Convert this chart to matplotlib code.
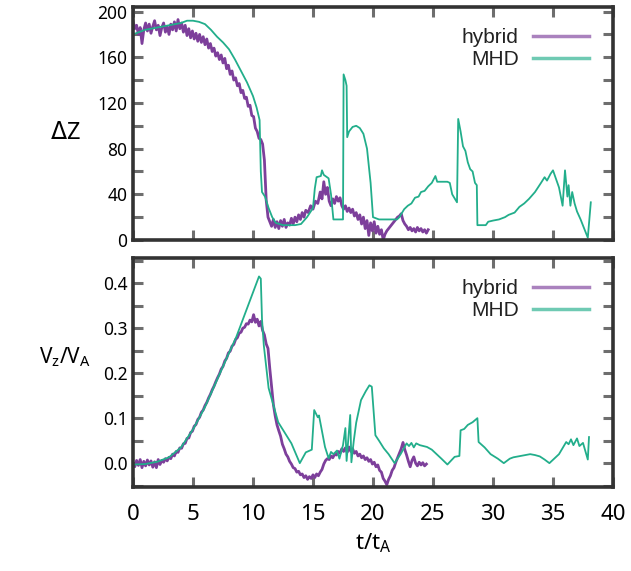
import numpy as np
import matplotlib
matplotlib.use("Agg")
import matplotlib.pyplot as plt
from matplotlib.ticker import MultipleLocator, FuncFormatter

# ---- data ----
hyb_dz_t = [0.0, 0.15, 0.3, 0.45, 0.6, 0.75, 0.9, 1.05, 1.2, 1.35, 1.5, 1.65, 1.8, 1.95, 2.1, 2.25, 2.4, 2.55, 2.7, 2.85,
            3.0, 3.15, 3.3, 3.45, 3.6, 3.75, 3.9, 4.05, 4.2, 4.35, 4.5, 4.65, 4.8, 4.95, 5.1, 5.25, 5.4, 5.55, 5.7, 5.85,
            6.0, 6.15, 6.3, 6.45, 6.6, 6.75, 6.9, 7.05, 7.2, 7.35, 7.5, 7.65, 7.8, 7.95, 8.1, 8.25, 8.4, 8.55, 8.7, 8.85,
            9.0, 9.15, 9.3, 9.45, 9.6, 9.75, 9.9, 10.05, 10.2, 10.35, 10.5, 10.65, 10.8, 10.95, 11.1, 11.25, 11.4, 11.55,
            11.7, 11.85, 12.0, 12.15, 12.3, 12.45, 12.6, 12.75, 12.9, 13.05, 13.2, 13.35, 13.5, 13.65, 13.8, 13.95, 14.1,
            14.25, 14.4, 14.6, 14.8, 15.0, 15.2, 15.4, 15.6, 15.75, 15.9, 16.05, 16.2, 16.35, 16.5, 16.65, 16.8, 16.95,
            17.1, 17.25, 17.4, 17.55, 17.7, 17.85, 18.0, 18.15, 18.3, 18.45, 18.6, 18.75, 18.9, 19.05, 19.2, 19.35, 19.5,
            19.65, 19.8, 19.95, 20.1, 20.25, 20.4, 20.55, 20.7, 20.85, 21.0, 21.15, 21.3, 21.45, 21.6, 21.75, 21.9, 22.05,
            22.2, 22.35, 22.5, 22.65, 22.8, 22.95, 23.1, 23.25, 23.4, 23.55, 23.7, 23.85, 24.0, 24.15, 24.3, 24.45, 24.6]
hyb_dz = [192, 185, 188, 180, 186, 172, 184, 190, 183, 189, 181, 187, 192, 184, 188, 179, 186, 190, 182, 187,
          180, 189, 184, 191, 183, 193, 185, 190, 182, 188, 179, 185, 177, 183, 176, 181, 174, 180, 173, 178,
          171, 176, 168, 172, 165, 168, 161, 164, 158, 162, 155, 159, 150, 153, 145, 148, 140, 142, 135, 137,
          129, 131, 124, 125, 117, 118, 109, 108, 98, 95, 89, 88, 84, 70, 35, 20, 16, 12,
          18, 11, 16, 10, 17, 12, 18, 11, 15, 13, 19, 14, 20, 16, 22, 18, 24,
          20, 26, 24, 30, 27, 34, 32, 42, 36, 51, 40, 46, 34, 30, 36, 32, 38,
          34, 37, 30, 27, 30, 25, 28, 24, 27, 21, 24, 18, 22, 14, 20, 10, 17,
          4, 15, 8, 16, 6, 12, 5, 9, 0, 5, 8, 10, 12, 14, 16, 18, 20,
          21, 23, 17, 14, 12, 9, 11, 8, 10, 7, 11, 8, 10, 7, 9, 6, 9]

mhd_dz_t = [0, 0.5, 1, 1.5, 2, 2.5, 3, 3.5, 4, 4.5, 5, 5.5, 6, 6.5, 7, 7.5, 8, 8.5, 9, 9.5, 10, 10.3, 10.55, 10.65,
            10.75, 11.0, 11.3, 11.6, 11.9, 12.5, 13.5, 14.0, 14.5, 15.0, 15.15, 15.3, 15.65, 15.75, 15.9, 16.3, 16.5,
            16.7, 17.5, 17.55, 17.7, 17.8, 17.85, 18.0, 18.3, 18.6, 18.9, 19.2, 19.5, 19.8, 20.0, 20.5, 22.0, 22.2,
            22.6, 22.9, 23.2, 23.5, 23.8, 24.0, 24.3, 24.6, 24.9, 25.2, 25.35, 25.8, 26.2, 26.4, 26.6, 27.0, 27.1,
            27.3, 27.5, 27.7, 27.9, 28.1, 28.3, 28.5, 28.65, 28.7, 29.4, 29.6, 30.0, 30.5, 31.0, 31.3, 31.8, 32.2,
            32.6, 33.0, 33.5, 34.0, 34.3, 34.5, 34.8, 35.0, 35.2, 35.5, 35.8, 36.0, 36.2, 36.3, 36.45, 36.6, 36.8,
            37.0, 37.3, 37.6, 37.9, 38.15]
mhd_dz = [180, 182, 184, 185, 186, 187, 188, 189, 190, 192, 192, 191, 189, 184, 178, 173, 167, 158, 148, 138, 126, 116, 105, 60,
          42, 38, 28, 20, 15, 13, 13, 14, 20, 28, 45, 55, 56, 61, 57, 54, 40,
          18, 18, 145, 140, 135, 90, 95, 99, 100, 98, 93, 80, 50, 20, 18, 18, 20,
          27, 30, 32, 37, 38, 42, 43, 47, 50, 56, 51, 51, 51, 50, 40, 33, 106,
          95, 82, 78, 68, 62, 60, 50, 48, 13, 13, 16, 17, 18, 20, 22, 24, 29,
          32, 36, 42, 50, 55, 52, 58, 61, 55, 46, 30, 61, 38, 48, 30, 42, 32,
          25, 18, 10, 2, 33]

hyb_vz_t = [0.0, 0.15, 0.3, 0.45, 0.6, 0.75, 0.9, 1.05, 1.2, 1.35, 1.5, 1.65, 1.8, 1.95, 2.1, 2.25, 2.4, 2.55, 2.7, 2.85,
            3.0, 3.15, 3.3, 3.45, 3.6, 3.75, 3.9, 4.05, 4.2, 4.35, 4.5, 4.65, 4.8, 4.95, 5.1, 5.25, 5.4, 5.55, 5.7, 5.85,
            6.0, 6.15, 6.3, 6.45, 6.6, 6.75, 6.9, 7.05, 7.2, 7.35, 7.5, 7.65, 7.8, 7.95, 8.1, 8.25, 8.4, 8.55, 8.7, 8.85,
            9.0, 9.15, 9.3, 9.45, 9.6, 9.75, 9.9, 10.05, 10.2, 10.35, 10.5, 10.65, 10.8, 10.95, 11.1, 11.25, 11.4, 11.55,
            11.7, 11.85, 12.0, 12.15, 12.3, 12.45, 12.6, 12.75, 12.9, 13.05, 13.2, 13.35, 13.5, 13.65, 13.8, 13.95, 14.1,
            14.25, 14.4, 14.55, 14.7, 14.85, 15.0, 15.15, 15.3, 15.45, 15.6, 15.75, 15.9, 16.05, 16.2, 16.35, 16.5, 16.65,
            16.8, 16.95, 17.1, 17.25, 17.4, 17.55, 17.7, 17.85, 18.0, 18.15, 18.3, 18.45, 18.6, 18.75, 18.9, 19.05, 19.2,
            19.35, 19.5, 19.65, 19.8, 19.95, 20.1, 20.25, 20.4, 20.55, 20.7, 20.85, 21.0, 21.15, 21.3, 21.45, 21.6, 21.75,
            21.9, 22.05, 22.2, 22.35, 22.5, 22.65, 22.8, 22.95, 23.1, 23.25, 23.4, 23.55, 23.7, 23.85, 24.0, 24.15, 24.3,
            24.45]
hyb_vz = [0.0, -0.008, 0.006, -0.005, 0.008, -0.01, 0.004, -0.006, 0.007, -0.004, 0.005, -0.009, 0.003, -0.01, 0.008,
          -0.003, 0.006, 0.002, 0.01, 0.005, 0.013, 0.01, 0.02, 0.016, 0.026, 0.024, 0.034, 0.033, 0.043, 0.044, 0.055,
          0.056, 0.068, 0.071, 0.082, 0.086, 0.097, 0.102, 0.113, 0.118, 0.128, 0.135, 0.145, 0.153, 0.163, 0.171,
          0.181, 0.19, 0.198, 0.209, 0.215, 0.227, 0.233, 0.245, 0.249, 0.26, 0.264, 0.275, 0.279, 0.289, 0.291, 0.3,
          0.302, 0.31, 0.309, 0.318, 0.314, 0.33, 0.313, 0.32, 0.305, 0.315, 0.295, 0.285, 0.265, 0.255, 0.21, 0.17,
          0.13, 0.105, 0.085, 0.072, 0.06, 0.042, 0.032, 0.02, 0.014, 0.004, -0.002, -0.01, -0.012, -0.02, -0.018,
          -0.026, -0.024, -0.032, -0.028, -0.036, -0.03, -0.034, -0.026, -0.032, -0.024, -0.028, -0.02, -0.014,
          -0.002, 0.006, 0.01, 0.008, 0.016, 0.012, 0.02, 0.018, 0.026, 0.022, 0.032, 0.026, 0.034, 0.024, 0.036,
          0.026, 0.032, 0.022, 0.026, 0.016, 0.02, 0.012, 0.016, 0.008, 0.012, 0.004, 0.008, -0.002, 0.002, -0.008,
          -0.004, -0.016, -0.02, -0.034, -0.04, -0.048, -0.036, -0.028, -0.016, -0.01, 0.002, 0.012, 0.022, 0.032,
          0.046, 0.03, 0.018, 0.004, -0.008, 0.006, 0.014, 0.0, -0.006, 0.002, -0.004, 0.001, -0.006, -0.002]

mhd_vz_t = [0, 1, 2, 3, 4, 5, 6, 7, 8, 8.6, 10.5, 10.65, 10.75, 10.9, 11.3, 12.1, 13.2, 13.9, 14.4, 14.9, 15.1, 15.4,
            15.5, 15.7, 16.0, 16.3, 16.5, 16.7, 17.0, 17.2, 17.5, 17.7, 17.8, 18.1, 18.2, 18.4, 18.6, 19.0, 19.4, 19.7,
            19.9, 20.2, 20.5, 20.9, 21.3, 21.8, 22.3, 22.8, 23.0, 23.2, 23.4, 23.6, 23.9, 24.2, 24.5, 24.9, 25.3, 25.7,
            26.2, 26.8, 27.2, 27.3, 27.6, 27.9, 28.3, 28.7, 28.8, 29.3, 29.8, 30.4, 30.9, 31.4, 31.7, 32.3, 33.1, 33.5,
            33.9, 34.3, 34.7, 35.1, 35.5, 36.1, 36.3, 36.5, 36.7, 37.0, 37.2, 37.5, 37.9, 38.0]
mhd_vz = [-0.003, -0.002, 0.003, 0.013, 0.035, 0.075, 0.125, 0.185, 0.245, 0.28, 0.415, 0.41, 0.32, 0.262, 0.167, 0.091,
          0.044, 0.0, 0.024, 0.03, 0.118, 0.102, 0.106, 0.078, 0.036, 0.011, 0.025, 0.02, 0.028, 0.01, 0.04, 0.078,
          0.005, 0.107, 0.002, 0.05, 0.09, 0.14, 0.16, 0.173, 0.17, 0.062, 0.05, 0.033, 0.02, 0.0, 0.02, 0.044, 0.038,
          0.045, 0.035, 0.044, 0.04, 0.038, 0.036, 0.03, 0.02, 0.01, -0.003, 0.014, 0.016, 0.073, 0.076, 0.085, 0.091,
          0.1, 0.047, 0.035, 0.02, 0.01, 0.0, 0.01, 0.013, 0.016, 0.02, 0.018, 0.015, 0.008, 0.0, 0.01, 0.02, 0.047,
          0.042, 0.053, 0.04, 0.055, 0.038, 0.045, 0.008, 0.058]

hyb_col = '#7d3f9b'
mhd_col = '#22ae8b'
frame_col = '#333333'
tick_col = '#6e6e6e'
tick_font = 'Noto Sans'
leg_font = ['Liberation Sans Narrow', 'Liberation Sans', 'DejaVu Sans']

fig = plt.figure(figsize=(6.31, 5.71), dpi=100)
ax1 = fig.add_axes([133/631, 1-240/571, 480/631, 233/571])
ax2 = fig.add_axes([133/631, 1-487/571, 480/631, 229/571])

ax1.plot(hyb_dz_t, hyb_dz, color=hyb_col, lw=2.0, label='hybrid')
ax1.plot(mhd_dz_t, mhd_dz, color=mhd_col, lw=1.3, label='MHD')
ax2.plot(hyb_vz_t, hyb_vz, color=hyb_col, lw=2.0, label='hybrid')
ax2.plot(mhd_vz_t, mhd_vz, color=mhd_col, lw=1.3, label='MHD')

ax1.set_ylim(0, 204)
ax2.set_ylim(-0.053, 0.456)

for ax in (ax1, ax2):
    ax.set_xlim(0, 40)
    ax.xaxis.set_major_locator(MultipleLocator(5))
    for s in ax.spines.values():
        s.set_linewidth(2.6)
        s.set_color(frame_col)
    ax.tick_params(which='both', direction='in', top=True, right=True, length=7, width=2.2,
                   color=tick_col, pad=4)
    leg = ax.legend(loc='upper right', bbox_to_anchor=(0.99, 0.99), frameon=False, markerfirst=False,
                    handlelength=2.7, handletextpad=0.7, labelspacing=0.15,
                    prop={'family': leg_font, 'size': 15})
    for h in leg.get_lines():
        h.set_linewidth(2.5)
        h.set_alpha(0.65)
    for t in leg.get_texts():
        t.set_color('#222222')

ax1.yaxis.set_major_locator(MultipleLocator(20))
ax1.yaxis.set_major_formatter(FuncFormatter(lambda v, p: '%d' % v if round(v) % 40 == 0 else ''))
ax1.set_xticklabels([])
ax2.yaxis.set_major_locator(MultipleLocator(0.05))
ax2.yaxis.set_major_formatter(FuncFormatter(lambda v, p: '%.1f' % v if abs(round(v * 20)) % 2 == 0 else ''))
ax2.tick_params(axis='x', pad=12)

for lab in ax1.get_yticklabels() + ax2.get_yticklabels():
    lab.set_fontfamily(tick_font)
    lab.set_fontsize(12.5)
for lab in ax2.get_xticklabels():
    lab.set_fontfamily(tick_font)
    lab.set_fontsize(16)

fig.text(65/631, 1-133/571, r'$\Delta$Z', fontsize=17, family=tick_font, ha='center', va='center')
fig.text(65/631, 1-357/571, 'V$_\\mathregular{z}$/V$_\\mathregular{A}$', fontsize=15, family=tick_font,
         ha='center', va='center')
ax2.set_xlabel('t/t$_\\mathregular{A}$', fontsize=16, family=tick_font, labelpad=5)

fig.savefig('out.png', dpi=100)
